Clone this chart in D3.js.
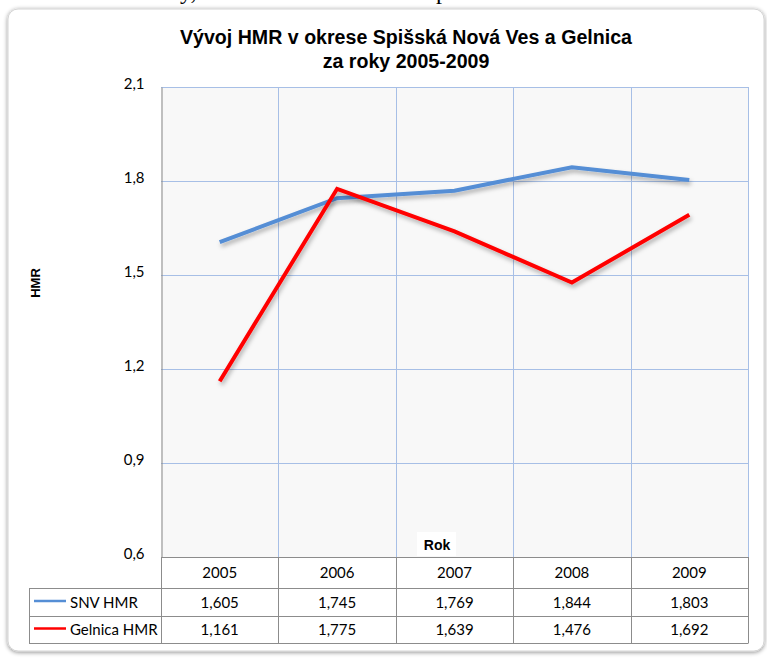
<!DOCTYPE html>
<html>
<head>
<meta charset="utf-8">
<style>
	body { margin: 0; background: #fff; }
	text { font-family: Lato, "Open Sans", sans-serif; }
	.title { font-family: "Liberation Sans", Arial, sans-serif; font-weight: bold; font-size: 19.6px; }
	.tick text { font-size: 15px; fill: #000; }
</style>
</head>
<body>
<svg width="767" height="658"></svg>
<script src="https://d3js.org/d3.v7.min.js"></script>
<script>

	var years = ["2005", "2006", "2007", "2008", "2009"];
	var snv = [1.605, 1.745, 1.769, 1.844, 1.803];
	var gelnica = [1.161, 1.775, 1.639, 1.476, 1.692];
	var seriesNames = ["SNV HMR", "Gelnica HMR"];
	var seriesColors = ["#558ed5", "#ff0000"];
	var yTicks = [0.6, 0.9, 1.2, 1.5, 1.8, 2.1];

	var svg = d3.select("svg");

	var defs = svg.append("defs");
	var shadow = defs.append("filter").attr("id", "shadow")
		.attr("x", "-10%").attr("y", "-10%").attr("width", "130%").attr("height", "130%");
	shadow.append("feDropShadow")
		.attr("dx", 1.5).attr("dy", 3).attr("stdDeviation", 2)
		.attr("flood-color", "#000").attr("flood-opacity", 0.3);
	var frameShadow = defs.append("filter").attr("id", "frameShadow")
		.attr("x", "-5%").attr("y", "-5%").attr("width", "110%").attr("height", "110%");
	frameShadow.append("feDropShadow")
		.attr("dx", 0).attr("dy", 1).attr("stdDeviation", 2)
		.attr("flood-color", "#000").attr("flood-opacity", 0.45);

	// cut-off line of the page above the chart (only the descenders show)
	svg.append("text").attr("x", 180).attr("y", -1)
		.style("font-family", "'Liberation Serif', serif").style("font-size", "24px")
		.text("y,");
	svg.append("text").attr("x", 436).attr("y", -1)
		.style("font-family", "'Liberation Serif', serif").style("font-size", "24px")
		.text("p");

	// chart frame
	svg.append("rect")
		.attr("x", 8).attr("y", 9).attr("width", 756).attr("height", 642)
		.attr("rx", 10)
		.attr("fill", "#fff").attr("stroke", "#d4d4d4").attr("stroke-width", 1)
		.attr("filter", "url(#frameShadow)");

	var margin = { left: 161, right: 748, top: 87, bottom: 557 };

	var x = d3.scaleBand().domain(years).range([margin.left, margin.right]);
	var y = d3.scaleLinear().domain([0.6, 2.1]).range([margin.bottom, margin.top]);

	// plot area
	svg.append("rect")
		.attr("x", margin.left).attr("y", margin.top)
		.attr("width", margin.right - margin.left).attr("height", margin.bottom - margin.top)
		.attr("fill", "#f8f8f8");

	// grid
	var grid = svg.append("g").attr("stroke", "#a7bfe6").attr("stroke-width", 1);
	grid.selectAll(".h").data(yTicks.slice(1))
		.enter().append("line")
		.attr("x1", margin.left).attr("x2", margin.right)
		.attr("y1", function (d) { return Math.round(y(d)) + 0.5; })
		.attr("y2", function (d) { return Math.round(y(d)) + 0.5; });
	grid.selectAll(".v").data(years.slice(1).concat(["end"]))
		.enter().append("line")
		.attr("x1", function (d, i) { return Math.round(margin.left + (i + 1) * x.bandwidth()) + 0.5; })
		.attr("x2", function (d, i) { return Math.round(margin.left + (i + 1) * x.bandwidth()) + 0.5; })
		.attr("y1", margin.top).attr("y2", margin.bottom);

	// y axis
	var yAxis = svg.append("g")
		.attr("transform", "translate(" + (margin.left + 0.5) + ",0)")
		.call(d3.axisLeft(y).tickValues(yTicks).tickSize(0).tickPadding(17)
			.tickFormat(function (d) { return d3.format(".1f")(d).replace(".", ","); }));
	yAxis.select(".domain").attr("stroke", "#868686");
	yAxis.selectAll(".tick text").attr("dy", "0.1em");

	// y axis title
	svg.append("text")
		.attr("transform", "translate(40,283) rotate(-90)")
		.attr("text-anchor", "middle")
		.style("font-family", "'Liberation Sans', Arial, sans-serif")
		.style("font-weight", "bold").style("font-size", "13px")
		.text("HMR");

	// lines
	var line = d3.line()
		.x(function (d, i) { return x(years[i]) + x.bandwidth() / 2; })
		.y(function (d) { return y(d); });

	[snv, gelnica].forEach(function (s, k) {
		svg.append("path")
			.datum(s)
			.attr("d", line)
			.attr("fill", "none")
			.attr("stroke", seriesColors[k])
			.attr("stroke-width", 4)
			.attr("stroke-linejoin", "miter")
			.attr("filter", "url(#shadow)");
	});

	// x axis title with white box
	svg.append("rect").attr("x", 417).attr("y", 532).attr("width", 39).attr("height", 24).attr("fill", "#fff");
	svg.append("text")
		.attr("x", 437).attr("y", 550)
		.attr("text-anchor", "middle")
		.style("font-family", "'Liberation Sans', Arial, sans-serif")
		.style("font-weight", "bold").style("font-size", "14px")
		.text("Rok");

	// data table
	var rowTops = [557, 588, 616, 643];
	var legendLeft = 29;
	var table = svg.append("g");
	var border = "#8c8c8c";

	// header row
	table.append("line")
		.attr("x1", margin.left).attr("x2", margin.right)
		.attr("y1", rowTops[0] + 0.5).attr("y2", rowTops[0] + 0.5)
		.attr("stroke", border);
	table.selectAll(".yr").data(years)
		.enter().append("text")
		.attr("x", function (d) { return x(d) + x.bandwidth() / 2; })
		.attr("y", (rowTops[0] + rowTops[1]) / 2 + 5.5)
		.attr("text-anchor", "middle")
		.style("font-size", "15px")
		.text(function (d) { return d; });

	// horizontal borders
	[1, 2, 3].forEach(function (r) {
		table.append("line")
			.attr("x1", legendLeft).attr("x2", margin.right)
			.attr("y1", rowTops[r] + 0.5).attr("y2", rowTops[r] + 0.5)
			.attr("stroke", border);
	});
	// vertical borders
	table.append("line")
		.attr("x1", legendLeft + 0.5).attr("x2", legendLeft + 0.5)
		.attr("y1", rowTops[1]).attr("y2", rowTops[3])
		.attr("stroke", border);
	years.forEach(function (d, i) {
		var xx = Math.round(x(d)) + 0.5;
		table.append("line")
			.attr("x1", xx).attr("x2", xx)
			.attr("y1", rowTops[0]).attr("y2", rowTops[3] + 0.5)
			.attr("stroke", border);
	});
	table.append("line")
		.attr("x1", margin.right + 0.5).attr("x2", margin.right + 0.5)
		.attr("y1", rowTops[0]).attr("y2", rowTops[3] + 0.5)
		.attr("stroke", border);

	[snv, gelnica].forEach(function (s, k) {
		var cy = (rowTops[k + 1] + rowTops[k + 2]) / 2;
		table.append("line")
			.attr("x1", 34).attr("x2", 66)
			.attr("y1", cy - 1).attr("y2", cy - 1)
			.attr("stroke", seriesColors[k]).attr("stroke-width", 2.5);
		table.append("text")
			.attr("x", 70).attr("y", cy + 5.5)
			.style("font-size", "15px")
			.text(seriesNames[k]);
		table.selectAll(".v" + k).data(s)
			.enter().append("text")
			.attr("x", function (d, i) { return x(years[i]) + x.bandwidth() / 2; })
			.attr("y", cy + 5.5)
			.attr("text-anchor", "middle")
			.style("font-size", "15px")
			.text(function (d) { return d3.format(".3f")(d).replace(".", ","); });
	});

	// chart title
	svg.append("text").attr("class", "title")
		.attr("x", 406).attr("y", 44).attr("text-anchor", "middle")
		.text("Vývoj HMR v okrese Spišská Nová Ves a Gelnica");
	svg.append("text").attr("class", "title")
		.attr("x", 406).attr("y", 68).attr("text-anchor", "middle")
		.text("za roky  2005-2009");

</script>
</body>
</html>
